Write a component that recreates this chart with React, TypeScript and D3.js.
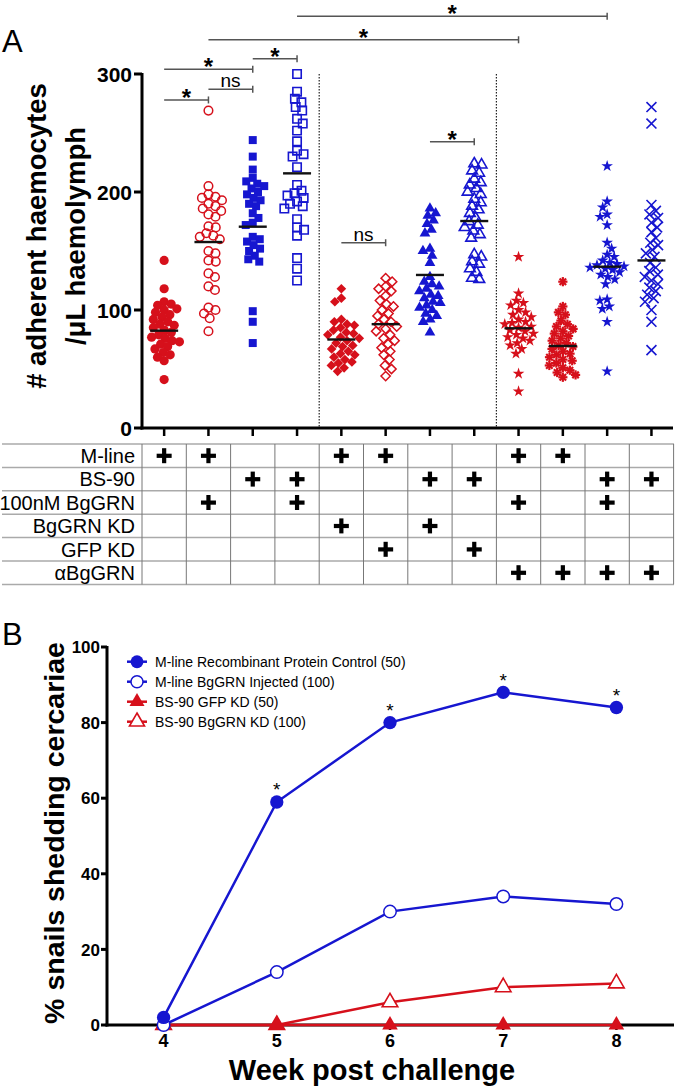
import React from 'react';
import * as d3 from 'd3';

const W = 677;
const H = 1091;
const RED = '#d6101b';
const BLUE = '#1616d0';
const FONT = '"Liberation Sans", Arial, Helvetica, sans-serif';

// ---- panel A data (adherent haemocytes / uL haemolymph) ----
const g1 = [142, 118, 107, 105, 104, 101, 100, 98, 96, 94, 92, 90, 88, 87, 85, 83, 81, 79, 77, 76, 74, 73, 71, 69, 67, 64, 62, 60, 57, 41];
const g2 = [269, 205, 198, 196, 195, 193, 190, 188, 186, 184, 181, 179, 171, 170, 165, 163, 162, 160, 150, 148, 142, 141, 131, 128, 120, 117, 102, 100, 97, 93, 82];
const g3 = [244, 230, 219, 212, 209, 207, 205, 203, 200, 198, 195, 193, 190, 188, 182, 178, 174, 172, 162, 160, 158, 155, 152, 150, 146, 143, 141, 99, 90, 72];
const g4 = [300, 285, 279, 276, 272, 269, 262, 258, 252, 243, 235, 232, 230, 221, 206, 201, 199, 197, 195, 192, 190, 188, 186, 177, 170, 168, 163, 144, 135, 125];
const g5 = [118, 110, 107, 92, 90, 88, 87, 85, 83, 81, 80, 79, 77, 76, 74, 72, 70, 69, 67, 65, 63, 62, 60, 58, 56, 55, 53, 51, 48];
const g6 = [127, 124, 120, 118, 116, 112, 108, 105, 103, 100, 97, 95, 92, 90, 88, 86, 84, 82, 79, 76, 74, 71, 68, 65, 62, 58, 53, 50, 44];
const g7 = [186, 182, 180, 176, 173, 168, 165, 152, 150, 146, 140, 128, 124, 122, 120, 118, 116, 113, 112, 110, 107, 106, 104, 102, 100, 97, 95, 92, 90, 81];
const g8 = [224, 223, 218, 216, 211, 208, 206, 203, 200, 198, 194, 191, 188, 185, 182, 178, 175, 172, 170, 167, 164, 161, 147, 145, 141, 139, 135, 132, 127, 126];
const g9 = [145, 114, 108, 106, 104, 100, 98, 96, 94, 92, 90, 89, 88, 86, 85, 83, 82, 80, 79, 77, 76, 74, 72, 70, 67, 63, 46, 31];
const g10 = [124, 103, 98, 96, 91, 88, 86, 84, 82, 80, 78, 76, 74, 72, 70, 69, 67, 65, 63, 62, 60, 58, 57, 55, 53, 51, 49, 47, 45, 43];
const g11 = [222, 192, 187, 181, 179, 172, 157, 152, 147, 145, 142, 140, 139, 138, 137, 136, 135, 134, 132, 130, 128, 126, 122, 109, 108, 103, 101, 90, 48];
const g12 = [272, 258, 189, 184, 181, 178, 174, 170, 166, 161, 157, 155, 151, 148, 145, 140, 136, 133, 130, 128, 125, 122, 119, 116, 113, 110, 107, 100, 90, 66];
const groups = [g1, g2, g3, g4, g5, g6, g7, g8, g9, g10, g11, g12];
const groupMeans = [82.5, 157.6, 170.6, 215.8, 75, 88, 129.7, 175.4, 84.5, 69.5, 136.7, 142];
const groupMarkers = ['circle', 'circleOpen', 'square', 'squareOpen', 'diamond', 'diamondOpen', 'triangle', 'triangleOpen', 'star', 'asterisk', 'star', 'times'];
const groupColors = [RED, RED, BLUE, BLUE, RED, RED, BLUE, BLUE, RED, RED, BLUE, BLUE];
const yTicksA = [0, 100, 200, 300];
const dividersAfter = [3, 7];

const brackets = [
  { from: 0, to: 1, level: 278, label: '*' },
  { from: 1, to: 2, level: 287, label: 'ns' },
  { from: 0, to: 2, level: 304, label: '*' },
  { from: 2, to: 3, level: 313, label: '*' },
  { from: 1, to: 8, level: 329, label: '*' },
  { from: 3, to: 10, level: 349, label: '*' },
  { from: 6, to: 7, level: 242.6, label: '*' },
  { from: 4, to: 5, level: 157, label: 'ns' },
];

const tableRows = ['M-line', 'BS-90', '100nM BgGRN', 'BgGRN KD', 'GFP KD', 'αBgGRN'];
const tablePlus = [
  [1, 1, 0, 0, 1, 1, 0, 0, 1, 1, 0, 0],
  [0, 0, 1, 1, 0, 0, 1, 1, 0, 0, 1, 1],
  [0, 1, 0, 1, 0, 0, 0, 0, 1, 0, 1, 0],
  [0, 0, 0, 0, 1, 0, 1, 0, 0, 0, 0, 0],
  [0, 0, 0, 0, 0, 1, 0, 1, 0, 0, 0, 0],
  [0, 0, 0, 0, 0, 0, 0, 0, 1, 1, 1, 1],
];

// ---- panel B data (% snails shedding cercariae) ----
const weeks = [4, 5, 6, 7, 8];
const mlineControl = [2, 59, 80, 88, 84];
const mlineInjected = [0, 14, 30, 34, 32];
const bs90Gfp = [0, 0, 0, 0, 0];
const bs90Kd = [0, 0, 6, 10, 11];
const sigWeeks = [5, 6, 7, 8];
const yTicksB = [0, 20, 40, 60, 80, 100];
const seriesB = [
  { name: 'M-line Recombinant Protein Control (50)', values: mlineControl, color: BLUE, marker: 'circle' },
  { name: 'M-line BgGRN Injected (100)', values: mlineInjected, color: BLUE, marker: 'circleOpen' },
  { name: 'BS-90 GFP KD (50)', values: bs90Gfp, color: RED, marker: 'triangle' },
  { name: 'BS-90 BgGRN KD (100)', values: bs90Kd, color: RED, marker: 'triangleOpen' },
];

// simple beeswarm: nearest free horizontal offset for each point
function swarm(ys: number[], d: number): number[] {
  const placed: { x: number; y: number }[] = [];
  return ys.map((py, i) => {
    const blocks: [number, number][] = [];
    const cands = [0];
    placed.forEach(p => {
      const dy = Math.abs(p.y - py);
      if (dy < d) {
        const dx = Math.sqrt(d * d - dy * dy);
        blocks.push([p.x - dx, p.x + dx]);
        cands.push(p.x - dx, p.x + dx);
      }
    });
    const side = i % 2 ? 1 : -1;
    cands.sort((a, b) => Math.abs(a) - Math.abs(b) || side * (b - a));
    const x = cands.find(c => blocks.every(([l, r]) => c <= l + 1e-6 || c >= r - 1e-6)) ?? 0;
    placed.push({ x, y: py });
    return x;
  });
}

function Marker({ type, x, y, color, s = 1 }: { type: string; x: number; y: number; color: string; s?: number }) {
  const t = `translate(${x},${y})`;
  const sym = (st: d3.SymbolType, size: number) => d3.symbol(st, size * s * s)() as string;
  switch (type) {
    case 'circle':
      return <circle cx={x} cy={y} r={4.6 * s} fill={color} />;
    case 'circleOpen':
      return <circle cx={x} cy={y} r={4.3 * s} fill="none" stroke={color} strokeWidth={1.5} />;
    case 'square':
      return <path transform={t} d={sym(d3.symbolSquare, 64)} fill={color} />;
    case 'squareOpen':
      return <path transform={t} d={sym(d3.symbolSquare, 70)} fill="none" stroke={color} strokeWidth={1.6} />;
    case 'diamond':
      return <path transform={t} d={sym(d3.symbolDiamond2, 60)} fill={color} />;
    case 'diamondOpen':
      return <path transform={t} d={sym(d3.symbolDiamond2, 55)} fill="none" stroke={color} strokeWidth={1.5} />;
    case 'triangle':
      return <path transform={t} d={sym(d3.symbolTriangle, 50)} fill={color} />;
    case 'triangleOpen':
      return <path transform={t} d={sym(d3.symbolTriangle, 50)} fill="none" stroke={color} strokeWidth={1.6} />;
    case 'star':
      return <path transform={t} d={sym(d3.symbolStar, 42)} fill={color} />;
    case 'times':
      return <path transform={t} d={sym(d3.symbolTimes, 66)} fill="none" stroke={color} strokeWidth={1.6} />;
    case 'asterisk': {
      const r = 4.6 * s;
      return (
        <g transform={t} stroke={color} strokeWidth={2.2}>
          {[0, 45, 90, 135].map(a => (
            <line key={a} x1={-r * Math.cos((a * Math.PI) / 180)} y1={-r * Math.sin((a * Math.PI) / 180)}
              x2={r * Math.cos((a * Math.PI) / 180)} y2={r * Math.sin((a * Math.PI) / 180)} />
          ))}
        </g>
      );
    }
    default:
      return null;
  }
}

export default function App() {
  // panel A scales
  const xA = d3.scalePoint<number>().domain(d3.range(12)).range([142, 673.6]).padding(0.5);
  const stepA = xA.step();
  const yA = d3.scaleLinear().domain([0, 300]).range([428, 74]);

  // table
  const tableTop = 444;
  const rowH = 23.4;

  // panel B scales
  const xB = d3.scaleLinear().domain([3.5, 8.5]).range([107, 673]);
  const yB = d3.scaleLinear().domain([0, 100]).range([1025, 647]);
  const line = d3.line<number>().x((_, i) => xB(weeks[i])).y(v => yB(v));

  return (
    <svg width={W} height={H} style={{ position: 'absolute', left: 0, top: 0, background: '#fff' }} fontFamily={FONT}>
      {/* ===== Panel A ===== */}
      <text x={2} y={52} fontSize={31}>A</text>
      <g fontWeight="bold" fontSize={27.5} textAnchor="middle">
        <text transform={`translate(46,236) rotate(-90)`}># adherent haemocytes</text>
        <text transform={`translate(85,236) rotate(-90)`}>/μL haemolymph</text>
      </g>

      {/* dividers */}
      {dividersAfter.map(i => {
        const x = (xA(i)! + xA(i + 1)!) / 2;
        return <line key={i} x1={x} x2={x} y1={yA(300)} y2={yA(0)} stroke="#222" strokeWidth={1.2} strokeDasharray="1.5,1.5" />;
      })}

      {/* points */}
      {groups.map((vals, gi) => {
        const ys = vals.map(v => yA(v));
        const offs = swarm(ys, 7.4);
        return (
          <g key={gi}>
            {vals.map((v, j) => (
              <Marker key={j} type={groupMarkers[gi]} x={xA(gi)! + offs[j]} y={ys[j]} color={groupColors[gi]} />
            ))}
          </g>
        );
      })}
      {groupMeans.map((m, gi) => (
        <line key={gi} x1={xA(gi)! - 14} x2={xA(gi)! + 14} y1={yA(m)} y2={yA(m)} stroke="#111" strokeWidth={2.4} />
      ))}

      {/* axes A */}
      <line x1={142} x2={142} y1={yA(300) - 1} y2={yA(0) + 1.5} stroke="#000" strokeWidth={3} />
      <line x1={140.5} x2={673} y1={yA(0)} y2={yA(0)} stroke="#000" strokeWidth={3} />
      {yTicksA.map(t => (
        <g key={t}>
          <line x1={134} x2={142} y1={yA(t)} y2={yA(t)} stroke="#000" strokeWidth={3} />
          <text x={132} y={yA(t)} dy="0.36em" textAnchor="end" fontWeight="bold" fontSize={21}>{t}</text>
        </g>
      ))}
      {xA.domain().map(i => (
        <line key={i} x1={xA(i)} x2={xA(i)} y1={yA(0)} y2={yA(0) + 8} stroke="#000" strokeWidth={2.5} />
      ))}

      {/* significance brackets */}
      {brackets.map((b, k) => {
        const x1 = xA(b.from)!;
        const x2 = xA(b.to)!;
        const y = yA(b.level);
        return (
          <g key={k}>
            <line x1={x1} x2={x2} y1={y} y2={y} stroke="#555" strokeWidth={1.5} />
            <line x1={x2} x2={x2} y1={y - 3.5} y2={y + 3.5} stroke="#555" strokeWidth={1.5} />
            {b.label === '*' ? (
              <text x={(x1 + x2) / 2} y={y + 6} textAnchor="middle" fontSize={24} fontWeight="bold">*</text>
            ) : (
              <text x={(x1 + x2) / 2} y={y - 2} textAnchor="middle" fontSize={19}>ns</text>
            )}
          </g>
        );
      })}

      {/* condition table */}
      {d3.range(7).map(r => (
        <line key={r} x1={2} x2={674} y1={tableTop + r * rowH} y2={tableTop + r * rowH} stroke="#aaa" strokeWidth={1.5} />
      ))}
      {d3.range(13).map(c => {
        const x = 142 + c * stepA;
        return <line key={c} x1={x} x2={x} y1={tableTop} y2={tableTop + 6 * rowH} stroke="#777" strokeWidth={1} />;
      })}
      {tableRows.map((name, r) => {
        const cy = tableTop + (r + 0.5) * rowH;
        return (
          <g key={name}>
            <text x={135} y={cy} dy="0.36em" textAnchor="end" fontSize={20}>{name}</text>
            {tablePlus[r].map((p, c) =>
              p ? (
                <g key={c} fill="#000">
                  <rect x={xA(c)! - 7.5} y={cy - 2} width={15} height={4.2} />
                  <rect x={xA(c)! - 2.1} y={cy - 7.5} width={4.2} height={15} />
                </g>
              ) : null
            )}
          </g>
        );
      })}

      {/* ===== Panel B ===== */}
      <text x={2} y={645} fontSize={31}>B</text>
      <text transform={`translate(64,833) rotate(-90)`} textAnchor="middle" fontWeight="bold" fontSize={28.5}>
        % snails shedding cercariae
      </text>

      {/* axes B */}
      <line x1={107} x2={107} y1={yB(100) - 1} y2={yB(0) + 1.5} stroke="#000" strokeWidth={3} />
      <line x1={105.5} x2={674} y1={yB(0)} y2={yB(0)} stroke="#000" strokeWidth={3} />
      {yTicksB.map(t => (
        <g key={t}>
          <line x1={101} x2={107} y1={yB(t)} y2={yB(t)} stroke="#000" strokeWidth={3} />
          <text x={100} y={yB(t)} dy="0.36em" textAnchor="end" fontWeight="bold" fontSize={17}>{t}</text>
        </g>
      ))}
      {weeks.map(w => (
        <g key={w}>
          <line x1={xB(w)} x2={xB(w)} y1={yB(0)} y2={yB(0) + 5} stroke="#000" strokeWidth={2.5} />
          <text x={xB(w)} y={1047} textAnchor="middle" fontWeight="bold" fontSize={18}>{w}</text>
        </g>
      ))}
      <text x={372} y={1080} textAnchor="middle" fontWeight="bold" fontSize={29}>Week post challenge</text>

      {/* series */}
      {[...seriesB].reverse().map(s => (
        <g key={s.name}>
          <path d={line(s.values) as string} fill="none" stroke={s.color} strokeWidth={2.5} />
          {s.values.map((v, i) => (
            <g key={i}>
              {s.marker.endsWith('Open') && (
                <Marker type={s.marker === 'circleOpen' ? 'circle' : 'triangle'} x={xB(weeks[i])} y={yB(v)} color="#fff" s={1.35} />
              )}
              <Marker type={s.marker} x={xB(weeks[i])} y={yB(v)} color={s.color} s={1.45} />
            </g>
          ))}
        </g>
      ))}
      {sigWeeks.map(w => {
        const v = mlineControl[weeks.indexOf(w)];
        return <text key={w} x={xB(w)} y={yB(v) - 5.5} textAnchor="middle" fontSize={19}>*</text>;
      })}

      {/* legend */}
      {seriesB.map((s, i) => {
        const cy = 661.7 + i * 20;
        return (
          <g key={s.name}>
            <line x1={127} x2={147} y1={cy} y2={cy} stroke={s.color} strokeWidth={2.5} />
            {s.marker.endsWith('Open') && (
              <Marker type={s.marker === 'circleOpen' ? 'circle' : 'triangle'} x={137} y={cy} color="#fff" s={1.3} />
            )}
            <Marker type={s.marker} x={137} y={cy} color={s.color} s={1.4} />
            <text x={155} y={cy} dy="0.36em" fontSize={14}>{s.name}</text>
          </g>
        );
      })}
    </svg>
  );
}
